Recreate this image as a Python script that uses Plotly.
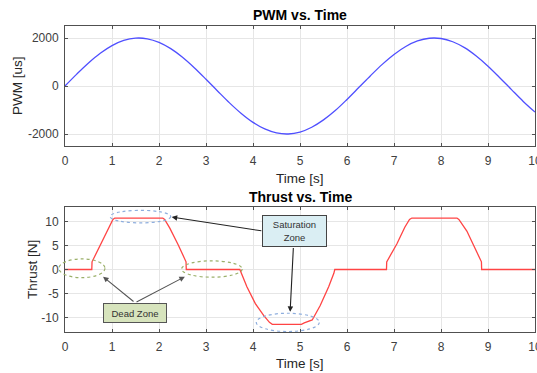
import plotly.graph_objects as go

# ---------------- data ----------------
pwm_time = [0, 0.25, 0.5, 0.75, 1.0, 1.25, 1.5, 1.75, 2.0, 2.25, 2.5, 2.75, 3.0, 3.25,
            3.5, 3.75, 4.0, 4.25, 4.5, 4.75, 5.0, 5.25, 5.5, 5.75, 6.0, 6.25, 6.5,
            6.75, 7.0, 7.25, 7.5, 7.75, 8.0, 8.25, 8.5, 8.75, 9.0, 9.25, 9.5, 9.75, 10.0]
pwm_us = [0, 495, 959, 1363, 1683, 1898, 1995, 1968, 1819, 1556, 1197, 763, 282, -216,
          -702, -1143, -1514, -1790, -1955, -1999, -1918, -1717, -1411, -1022, -559, -66, 430,
          901, 1314, 1646, 1876, 1990, 1979, 1844, 1597, 1248, 824, 347, -150, -643, -1088]

thrust_time = [0, 0.57, 0.575, 0.745, 0.92, 1.02, 1.06, 2.08, 2.12, 2.23, 2.41, 2.56, 2.575, 2.58,
               3.72, 3.87, 4.05, 4.23, 4.35, 4.41, 5.03, 5.09, 5.26, 5.43, 5.61, 5.72, 5.74,
               6.84, 6.845, 7.06, 7.23, 7.33, 7.38, 8.34, 8.38, 8.55, 8.74, 8.85, 8.86, 8.865, 10]
thrust_n = [0, 0, 1.6, 5.1, 8.6, 10.4, 10.7, 10.7, 10.4, 8.6, 5.1, 1.8, 1.6, 0,
            0, -3.6, -7.1, -9.6, -11.0, -11.4, -11.4, -11.1, -10.5, -7.5, -3.6, -0.8, 0,
            0, 1.6, 5.3, 8.8, 10.4, 10.7, 10.7, 10.4, 8.0, 4.1, 1.8, 1.6, 0, 0]

x_ticks = list(range(0, 11))
pwm_ticks = [-2000, 0, 2000]
pwm_ticktext = ["-2000", "0", "2000"]
thrust_ticks = [-10, -5, 0, 5, 10]
thrust_ticktext = ["-10", "-5", "0", "5", "10"]

# annotation regions (data coords of lower plot): (t0, t1, T0, T1)
dead_zones = [(-0.13, 0.85, -1.7, 2.2), (2.48, 3.77, -1.6, 1.8)]
sat_zones = [(0.96, 2.25, 9.7, 12.3), (4.07, 5.41, -12.9, -9.1)]

# ---------------- layout geometry ----------------
W, H = 537, 373
TOP_DOM = [1 - 146 / H, 1 - 26 / H]
BOT_DOM = [1 - 332 / H, 1 - 207 / H]
XR = [0, 10]
YR2 = [-13, 13]

def bx(t):
    return (t - XR[0]) / (XR[1] - XR[0])

def by(v):
    return BOT_DOM[0] + (v - YR2[0]) / (YR2[1] - YR2[0]) * (BOT_DOM[1] - BOT_DOM[0])

def py(p):
    return 1 - p / H

FONT = "Liberation Sans, Arial, sans-serif"
TICKC = "#404040"
GRIDC = "#e6e6e6"
LINEC = "#505050"

fig = go.Figure()
fig.add_trace(go.Scatter(x=pwm_time, y=pwm_us, mode="lines", line=dict(color="#4f4fff", width=1.3, shape="spline"),
                         xaxis="x", yaxis="y", showlegend=False))
fig.add_trace(go.Scatter(x=thrust_time, y=thrust_n, mode="lines", line=dict(color="#ff4444", width=1.3),
                         xaxis="x2", yaxis="y2", showlegend=False))

axis_common = dict(showline=True, linecolor=LINEC, linewidth=1, mirror="ticks", ticks="inside", ticklen=3,
                   tickcolor=LINEC, showgrid=True, gridcolor=GRIDC, gridwidth=1, zeroline=False,
                   ticklabeloverflow="allow", automargin=False,
                   tickfont=dict(family=FONT, size=12, color=TICKC))

fig.update_layout(
    width=W, height=H, margin=dict(l=65, r=2, t=0, b=0, autoexpand=False),
    paper_bgcolor="white", plot_bgcolor="white",
    xaxis=dict(domain=[0, 1], range=XR, anchor="y", tickvals=x_ticks, ticklabelstandoff=4, **axis_common),
    yaxis=dict(domain=TOP_DOM, range=[-2500, 2500], anchor="x", tickvals=pwm_ticks, ticktext=pwm_ticktext,
               ticklabelstandoff=3, **axis_common),
    xaxis2=dict(domain=[0, 1], range=XR, anchor="y2", tickvals=x_ticks, ticklabelstandoff=4, **axis_common),
    yaxis2=dict(domain=BOT_DOM, range=YR2, anchor="x2", tickvals=thrust_ticks, ticktext=thrust_ticktext,
                ticklabelstandoff=3, **axis_common),
)

shapes = []
for (t0, t1, v0, v1) in dead_zones:
    shapes.append(dict(type="circle", xref="paper", yref="paper", x0=bx(t0), x1=bx(t1), y0=by(v0), y1=by(v1),
                       line=dict(color="#9bb06a", width=1.2, dash="dot")))
for (t0, t1, v0, v1) in sat_zones:
    shapes.append(dict(type="circle", xref="paper", yref="paper", x0=bx(t0), x1=bx(t1), y0=by(v0), y1=by(v1),
                       line=dict(color="#8eaede", width=1.2, dash="dot")))
fig.update_layout(shapes=shapes)

ann = []
# titles
ann.append(dict(text="<b>PWM vs. Time</b>", xref="paper", yref="paper", x=0.5, y=py(15), showarrow=False,
                font=dict(family=FONT, size=14, color="black"), xanchor="center", yanchor="middle"))
ann.append(dict(text="<b>Thrust vs. Time</b>", xref="paper", yref="paper", x=0.5, y=py(197), showarrow=False,
                font=dict(family=FONT, size=14, color="black"), xanchor="center", yanchor="middle"))
for yy in (178, 363):
    ann.append(dict(text="Time [s]", xref="paper", yref="paper", x=0.5, y=py(yy), showarrow=False,
                    font=dict(family=FONT, size=13.5, color="#262626"), xanchor="center", yanchor="middle"))
ann.append(dict(text="PWM [us]", xref="paper", yref="paper", x=(18 - 65) / 470, y=py(86), showarrow=False,
                textangle=-90, font=dict(family=FONT, size=13.5, color="#262626"), xanchor="center", yanchor="middle"))
ann.append(dict(text="Thrust [N]", xref="paper", yref="paper", x=(32 - 65) / 470, y=py(270), showarrow=False,
                textangle=-90, font=dict(family=FONT, size=13.5, color="#262626"), xanchor="center", yanchor="middle"))

# arrows (head, tail) in lower-plot data coords
arrows = [((2.27, 10.9), (4.21, 8.0), "#222222"),
          ((4.79, -8.8), (4.86, 4.8), "#222222"),
          ((0.81, -1.5), (1.49, -6.9), "#555555"),
          ((2.55, -1.5), (1.49, -6.9), "#555555")]
for (h, t, c) in arrows:
    ann.append(dict(text="", xref="x2", yref="y2", axref="x2", ayref="y2", x=h[0], y=h[1], ax=t[0], ay=t[1],
                    showarrow=True, arrowhead=2, arrowsize=1, arrowwidth=1.1, arrowcolor=c))

# text boxes
ann.append(dict(text="Saturation<br>Zone", xref="x2", yref="y2", x=4.89, y=8.1, showarrow=False,
                font=dict(family=FONT, size=9.5, color="#333333"), bgcolor="#daeef3", bordercolor="#444444",
                borderwidth=1, borderpad=1, width=61, height=28, xanchor="center", yanchor="middle"))
ann.append(dict(text="Dead Zone", xref="x2", yref="y2", x=1.48, y=-9.0, showarrow=False,
                font=dict(family=FONT, size=9.5, color="#333333"), bgcolor="#d7e4bd", bordercolor="#555555",
                borderwidth=1, borderpad=1, width=60, height=16, xanchor="center", yanchor="middle"))
fig.update_layout(annotations=ann)

fig.write_html("out.html", config={"displayModeBar": False},
               post_script="document.body.style.margin='0';document.body.style.overflow='hidden';")
